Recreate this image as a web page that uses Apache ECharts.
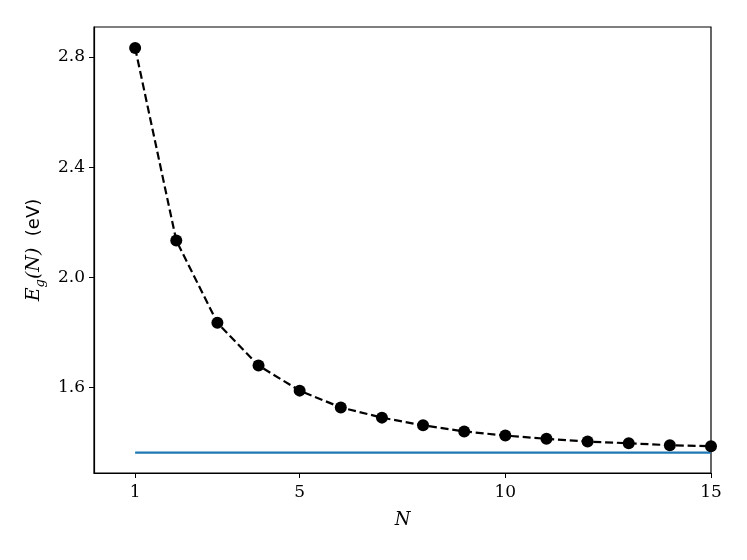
<!DOCTYPE html>
<html><head><meta charset="utf-8">
<script src="https://cdn.jsdelivr.net/npm/echarts@6/dist/echarts.min.js"></script>
<style>html,body{margin:0;padding:0;background:#fff}#c{width:747px;height:560px}</style>
</head><body><div id="c"></div>
<script>
const N = [1,2,3,4,5,6,7,8,9,10,11,12,13,14,15];
const Eg = [2.833,2.134,1.835,1.680,1.589,1.528,1.491,1.463,1.441,1.426,1.414,1.404,1.398,1.391,1.387];
const bulkN = [1, 15];
const bulkEg = [1.364, 1.364];
const xTicks = [1,5,10,15];
const yTicks = [1.6,2.0,2.4,2.8];

const serif = '"DejaVu Serif", "Liberation Serif", serif';
const chart = echarts.init(document.getElementById('c'));
chart.setOption({
  animation: false,
  grid: {left: 94, right: 36, top: 27, bottom: 87, show: true, borderColor: '#000', borderWidth: 1.2},
  xAxis: {
    type: 'value', min: 0, max: 15,
    name: 'N', nameLocation: 'middle', nameGap: 38,
    nameTextStyle: {fontFamily: serif, fontStyle: 'italic', fontSize: 18, color: '#000'},
    axisLine: {show: true, onZero: false, lineStyle: {color: '#000', width: 1.2}},
    axisTick: {show: true, customValues: xTicks, length: 5, lineStyle: {color: '#000', width: 1}},
    axisLabel: {customValues: xTicks, fontFamily: serif, fontSize: 17, color: '#000', margin: 11},
    splitLine: {show: false}
  },
  yAxis: {
    type: 'value', min: 1.29, max: 2.909,
    name: '{i|E}{sub|g}{i|(N)}{s|  (eV)}', nameLocation: 'middle', nameGap: 41, nameRotate: 90,
    nameTextStyle: {
      color: '#000',
      rich: {
        i: {fontFamily: serif, fontStyle: 'italic', fontSize: 19, lineHeight: 26, verticalAlign: 'middle'},
        sub: {fontFamily: serif, fontStyle: 'italic', fontSize: 13, lineHeight: 26, verticalAlign: 'bottom', padding: [9,0,0,0]},
        s: {fontFamily: '"DejaVu Sans", sans-serif', fontSize: 18, lineHeight: 26, verticalAlign: 'middle'}
      }
    },
    axisLine: {show: true, onZero: false, lineStyle: {color: '#000', width: 1.2}},
    axisTick: {show: true, customValues: yTicks, length: 5, lineStyle: {color: '#000', width: 1}},
    axisLabel: {customValues: yTicks, fontFamily: serif, fontSize: 17, color: '#000', margin: 9,
      formatter: v => v.toFixed(1)},
    splitLine: {show: false}
  },
  series: [
    {
      type: 'line', data: N.map((n,i) => [n, Eg[i]]),
      symbol: 'circle', symbolSize: 12, showSymbol: true,
      itemStyle: {color: '#000'},
      lineStyle: {color: '#000', width: 2.2, type: [8, 3.8]},
      z: 3
    },
    {
      type: 'line', data: bulkN.map((n,i) => [n, bulkEg[i]]),
      symbol: 'none', lineStyle: {color: '#1f77b4', width: 2.2}, z: 2
    }
  ]
});
</script></body></html>
